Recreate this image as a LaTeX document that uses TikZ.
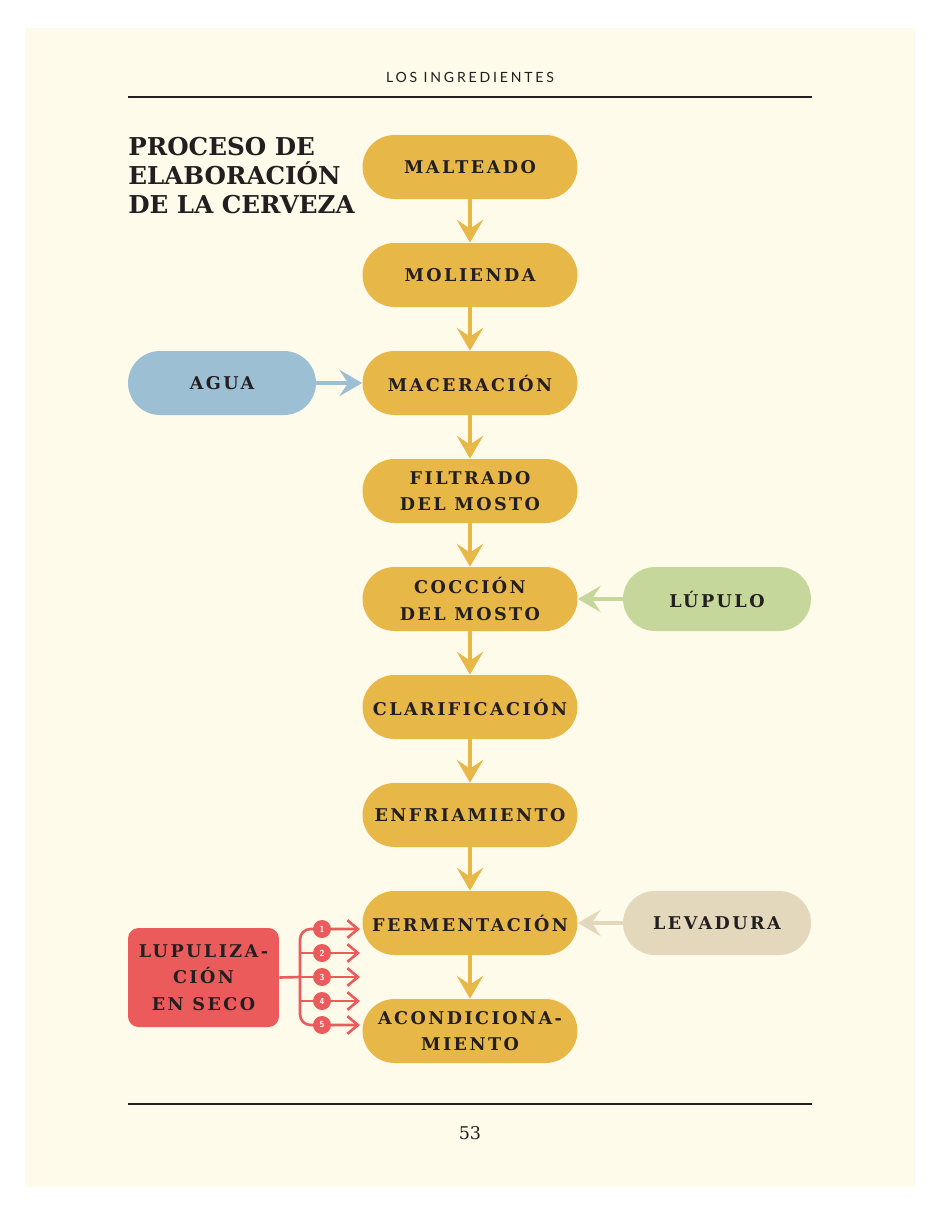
\documentclass[tikz,border=0pt]{standalone}
\usepackage{fontspec}
\setmainfont{DejaVu Serif}
\newfontfamily\labfont[LetterSpace=14]{DejaVu Serif}
\newfontfamily\titlefont{DejaVu Serif}
\newfontfamily\headfont[LetterSpace=20]{Lato}
\usetikzlibrary{arrows.meta,positioning}
\definecolor{paper}{HTML}{FEFBEA}
\definecolor{ink}{HTML}{231F20}
\definecolor{malt}{HTML}{E7B747}
\definecolor{water}{HTML}{9DBFD4}
\definecolor{hop}{HTML}{C6D79C}
\definecolor{yeast}{HTML}{E3D7BC}
\definecolor{dry}{HTML}{EC5B5B}
\tikzset{
  stage/.style={fill=malt, rounded corners=0.64cm, minimum width=4.3cm, minimum height=1.28cm,
    align=center, text=ink, font=\labfont\bfseries\fontsize{10}{15}\selectfont},
  side/.style={stage, minimum width=3.76cm},
  flow/.style={draw=malt, line width=2.4pt, -{Stealth[length=13pt,width=15pt,inset=5pt]}},
  feed/.style={line width=2.4pt, -{Stealth[length=13pt,width=15pt,inset=5pt]}},
  hopline/.style={draw=dry, line width=1.5pt, rounded corners=6pt},
  num/.style={circle, fill=dry, inner sep=0pt, minimum size=0.36cm, text=white, font=\sffamily\bfseries\tiny},
  rule/.style={draw=ink, line width=0.6pt},
}
\begin{document}
\begin{tikzpicture}[x=0.02cm,y=-0.02cm]
  \useasboundingbox (0,0) rectangle (940,1215);
  \fill[white] (0,0) rectangle (940,1215);
  \fill[paper] (25,28) rectangle (915,1187);

  % header and footer
  \node[font=\headfont\fontsize{8}{10}\selectfont, text=ink] (head) at (470,77) {LOS INGREDIENTES};
  \draw[rule] (128,97) -- (812,97);
  \draw[rule] (128,1104) -- (812,1104);
  \node[font=\fontsize{10}{12}\selectfont, text=ink] (page) at (470,1133) {53};

  \node[anchor=north west, align=left, text=ink, font=\titlefont\bfseries\fontsize{14}{16.5}\selectfont, inner sep=0pt]
    (title) at (128,137) {PROCESO DE\\ELABORACIÓN\\DE LA CERVEZA};

  % main stages
  \node[stage] (malt) at (470,167) {MALTEADO};
  \node[stage] (mill) at (470,275) {MOLIENDA};
  \node[stage] (mash) at (470,383) {MACERACIÓN};
  \node[stage] (filt) at (470,491) {FILTRADO\\DEL MOSTO};
  \node[stage] (boil) at (470,599) {COCCIÓN\\DEL MOSTO};
  \node[stage] (clar) at (470,707) {CLARIFICACIÓN};
  \node[stage] (cool) at (470,815) {ENFRIAMIENTO};
  \node[stage] (ferm) at (470,923) {FERMENTACIÓN};
  \node[stage] (cond) at (470,1031) {ACONDICIONA-\\MIENTO};

  % inputs
  \node[side, fill=water] (water) at (222,383) {AGUA};
  \node[side, fill=hop] (hops) at (717,599) {LÚPULO};
  \node[side, fill=yeast] (yeast) at (717,923) {LEVADURA};
  \node[stage, fill=dry, rounded corners=6pt, minimum width=3.02cm, minimum height=1.98cm]
    (dryhop) at (203.5,977.5) {LUPULIZA-\\CIÓN\\EN SECO};

  \foreach \a/\b in {malt/mill,mill/mash,mash/filt,filt/boil,boil/clar,clar/cool,cool/ferm,ferm/cond}
    \draw[flow] (\a) -- (\b);
  \draw[feed, draw=water] (water) -- (mash);
  \draw[feed, draw=hop] (hops) -- (boil);
  \draw[feed, draw=yeast] (yeast) -- (ferm);

  % dry hopping branches
  \coordinate (fork) at (300,977);
  \coordinate (tip1) at (360,929);
  \coordinate (tip5) at (360,1025);
  \draw[hopline] (dryhop.east) -- (fork);
  \draw[hopline, -{Straight Barb[length=6pt,width=10pt]}] (fork) -- (300,929) -- (tip1);
  \draw[hopline, -{Straight Barb[length=6pt,width=10pt]}] (fork) -- (300,1025) -- (tip5);
  \node[num] (n1) at (322,929) {1};
  \node[num] (n5) at (322,1025) {5};
  \foreach \i/\y in {2/953,3/977,4/1001}{
    \coordinate (tip\i) at (360,\y);
    \draw[hopline, -{Straight Barb[length=6pt,width=10pt]}] (300,\y) -- (tip\i);
    \node[num] (n\i) at (322,\y) {\i};
  }
\end{tikzpicture}
\end{document}
